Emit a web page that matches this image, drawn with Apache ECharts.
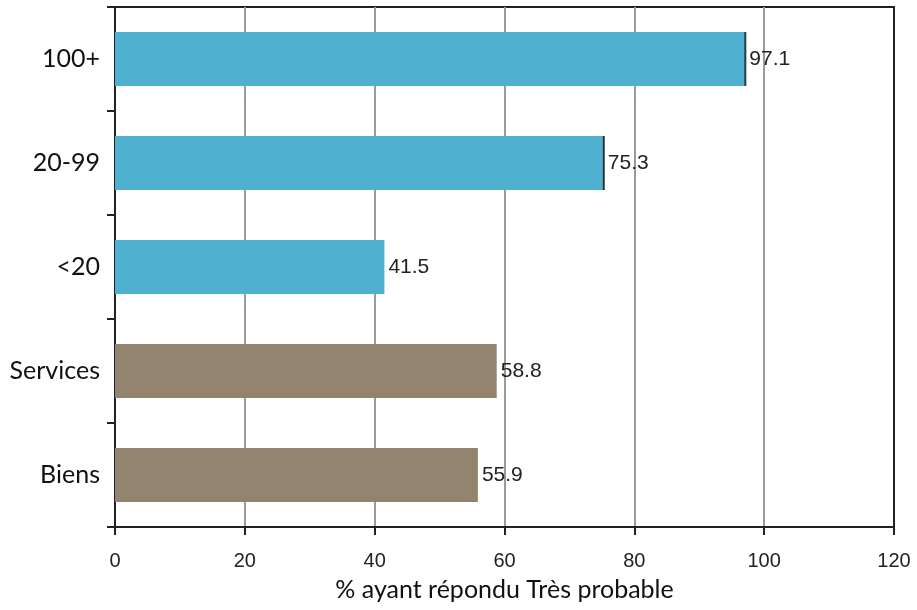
<!DOCTYPE html>
<html>
<head>
<meta charset="utf-8">
<style>
  html, body { margin: 0; padding: 0; background: #ffffff; }
  #chart { width: 917px; height: 610px; }
</style>
<script src="https://cdn.jsdelivr.net/npm/echarts@6/dist/echarts.min.js"></script>
</head>
<body>
<div id="chart"></div>
<script>
// Categories, top to bottom
const categories = ['100+', '20-99', '<20', 'Services', 'Biens'];
// Share answering "Très probable" (%)
const values = [97.1, 75.3, 41.5, 58.8, 55.9];
// Bar colour group per category: size classes vs. sector
const groups = ['size', 'size', 'size', 'sector', 'sector'];
// Categories whose bar end carries a thin dark marker
const markedEnds = ['100+', '20-99'];
const xTicks = [0, 20, 40, 60, 80, 100, 120];

const groupColors = { size: '#4fb1cf', sector: '#93846f' };

const barData = values.map((v, i) => ({
  value: v,
  itemStyle: { color: groupColors[groups[i]] }
}));

const endMarks = categories.map((c, i) =>
  markedEnds.includes(c) ? [values[i], c] : null
).filter(Boolean);

const chart = echarts.init(document.getElementById('chart'), null, { renderer: 'canvas' });

chart.setOption({
  animation: false,
  backgroundColor: '#ffffff',
  grid: {
    left: 115, right: 23, top: 7, bottom: 83,
    show: true, borderColor: '#222222', borderWidth: 2,
    backgroundColor: 'transparent'
  },
  xAxis: {
    type: 'value',
    min: xTicks[0],
    max: xTicks[xTicks.length - 1],
    interval: 20,
    name: '% ayant répondu Très probable',
    nameLocation: 'middle',
    nameGap: 50,
    nameTextStyle: { fontFamily: 'Lato', fontSize: 25, color: '#111111' },
    axisLine: { show: true, lineStyle: { color: '#222222', width: 2 } },
    axisTick: { show: true, inside: false, length: 8, lineStyle: { color: '#222222', width: 2 } },
    axisLabel: { margin: 24, fontFamily: 'Liberation Sans', fontSize: 20, color: '#222222' },
    splitLine: {
      show: true, showMinLine: false, showMaxLine: false,
      lineStyle: { color: '#9a9a9a', width: 2 }
    }
  },
  yAxis: {
    type: 'category',
    data: categories,
    inverse: true,
    axisLine: { show: true, lineStyle: { color: '#222222', width: 2 } },
    axisTick: { show: true, inside: false, length: 8, alignWithLabel: false, lineStyle: { color: '#222222', width: 2 } },
    axisLabel: { margin: 15, fontFamily: 'Lato', fontSize: 25, color: '#111111' },
    splitLine: { show: false }
  },
  series: [
    {
      type: 'bar',
      data: barData,
      barWidth: 54,
      label: {
        show: true,
        position: 'right',
        distance: 4,
        fontFamily: 'Liberation Sans',
        fontSize: 21,
        color: '#222222',
        formatter: p => p.value.toFixed(1)
      }
    },
    {
      type: 'scatter',
      data: endMarks,
      symbol: 'rect',
      symbolSize: [2, 54],
      itemStyle: { color: '#111111' },
      z: 3
    }
  ]
});
</script>
</body>
</html>
